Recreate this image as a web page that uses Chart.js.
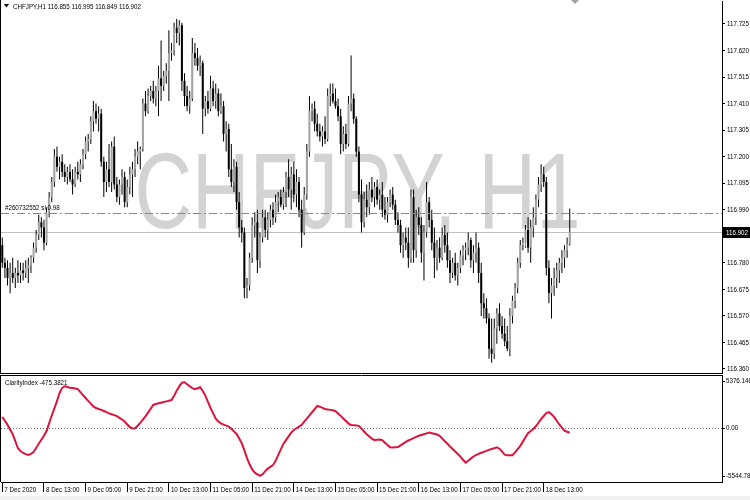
<!DOCTYPE html>
<html><head><meta charset="utf-8">
<script src="https://cdn.jsdelivr.net/npm/chart.js@4.4.1/dist/chart.umd.min.js"></script>
<style>
html,body{margin:0;padding:0;background:#fff;width:750px;height:500px;overflow:hidden}
#main{position:absolute;left:0;top:0}
#ind{position:absolute;left:0;top:374px}
#strip{position:absolute;left:0;top:496px;width:750px;height:4px;background:#f0f0f0}
</style></head><body>
<canvas id="main" width="750" height="374"></canvas>
<canvas id="ind" width="750" height="126"></canvas>
<div id="strip"></div>
<script>
const symbolTitle = 'CHFJPY,H1 116.855 116.995 116.849 116.902';
const watermark = 'CHFJPY, H1';
const indName = 'ClarityIndex -475.3821';
const slLabel = '#260732552 sl 0.98';
const bidPrice = 116.902;
const slPrice = 116.978;
const indMax = 5376.146;
const indMin = -5544.788;
const indMaxLabel = '5376.146';
const indZeroLabel = '0.00';
const indMinLabel = '-5544.788';
const emptySlots = 58;
const markerBar = 201;
const markerRange = [116.845, 116.905];

const priceTicks = [117.725,117.620,117.515,117.410,117.305,117.200,117.095,116.990,116.885,116.780,116.675,116.570,116.465,116.360];
const timeTicks = ['7 Dec 2020','8 Dec 13:00','9 Dec 05:00','9 Dec 21:00','10 Dec 13:00','11 Dec 05:00','11 Dec 21:00','14 Dec 13:00','15 Dec 05:00','15 Dec 21:00','16 Dec 13:00','17 Dec 05:00','17 Dec 21:00','18 Dec 13:00'];
const tickEvery = 16;

const open = [116.850,116.780,116.760,116.720,116.740,116.720,116.740,116.730,116.750,116.740,
116.760,116.770,116.800,116.840,116.890,116.940,116.920,116.860,116.980,117.040,
117.100,117.200,117.160,117.180,117.140,117.120,117.140,117.110,117.090,117.140,
117.130,117.170,117.210,117.260,117.270,117.340,117.380,117.350,117.370,117.180,
117.100,117.150,117.100,117.240,117.090,117.040,117.090,117.120,117.020,117.080,
117.130,117.150,117.200,117.220,117.230,117.410,117.380,117.440,117.460,117.430,
117.460,117.510,117.480,117.520,117.540,117.610,117.620,117.710,117.690,117.720,
117.500,117.440,117.400,117.430,117.610,117.590,117.560,117.570,117.390,117.420,
117.390,117.470,117.420,117.450,117.380,117.400,117.290,117.310,117.150,117.100,
117.160,117.020,116.920,116.900,116.680,116.690,116.800,116.930,116.940,116.790,
116.880,116.960,116.910,116.950,116.990,116.960,117.020,117.040,117.010,117.060,
117.120,117.070,117.130,117.050,117.100,116.990,116.900,117.050,117.220,117.380,
117.390,117.330,117.300,117.280,117.300,117.270,117.440,117.450,117.420,117.400,
117.360,117.250,117.290,117.250,117.410,117.430,117.350,117.220,117.050,116.940,
117.030,117.000,117.070,117.040,117.080,117.030,117.050,116.990,116.970,117.020,
117.050,117.010,116.950,116.930,116.850,116.880,116.860,116.800,117.040,116.830,
116.960,116.930,116.820,116.900,117.020,116.950,116.860,116.800,116.840,116.800,
116.890,116.850,116.790,116.740,116.780,116.730,116.760,116.810,116.830,116.840,
116.870,116.790,116.820,116.840,116.740,116.620,116.600,116.560,116.440,116.420,
116.520,116.580,116.530,116.500,116.470,116.440,116.570,116.630,116.680,116.780,
116.850,116.860,116.910,116.840,116.920,116.960,117.030,117.090,117.130,117.100,
116.760,116.660,116.690,116.720,116.750,116.780,116.800,116.830,116.855];
const high = [116.880,116.800,116.790,116.780,116.800,116.760,116.790,116.780,116.780,116.790,
116.800,116.810,116.860,116.910,116.970,116.960,116.950,117.000,117.060,117.120,
117.230,117.240,117.200,117.210,117.170,117.160,117.170,117.150,117.160,117.180,
117.190,117.230,117.280,117.290,117.360,117.420,117.410,117.400,117.390,117.200,
117.180,117.250,117.260,117.280,117.120,117.110,117.150,117.140,117.110,117.160,
117.180,117.230,117.260,117.240,117.430,117.460,117.470,117.480,117.500,117.480,
117.560,117.660,117.540,117.570,117.700,117.650,117.730,117.745,117.740,117.730,
117.530,117.480,117.460,117.670,117.650,117.630,117.600,117.580,117.440,117.460,
117.520,117.500,117.490,117.470,117.450,117.420,117.340,117.330,117.250,117.190,
117.180,117.060,116.950,116.920,116.720,116.820,116.960,116.980,116.990,116.900,
116.990,116.990,116.980,117.010,117.020,117.050,117.060,117.070,117.080,117.140,
117.190,117.160,117.180,117.150,117.120,117.030,117.080,117.250,117.440,117.410,
117.420,117.370,117.330,117.320,117.360,117.470,117.490,117.490,117.470,117.430,
117.390,117.320,117.330,117.440,117.600,117.450,117.360,117.240,117.110,117.060,
117.090,117.100,117.120,117.100,117.110,117.070,117.100,117.040,117.040,117.070,
117.080,117.030,116.980,116.950,116.900,116.920,116.920,117.070,117.070,116.990,
117.000,116.960,116.930,117.100,117.040,116.990,116.920,116.870,116.880,116.920,
116.930,116.900,116.830,116.800,116.820,116.780,116.830,116.850,116.860,116.900,
116.880,116.850,116.900,116.860,116.780,116.660,116.640,116.580,116.560,116.560,
116.600,116.620,116.570,116.560,116.530,116.600,116.650,116.700,116.800,116.870,
116.880,116.930,116.960,116.950,117.000,117.050,117.120,117.170,117.160,117.120,
116.790,116.720,116.760,116.780,116.800,116.830,116.850,116.880,116.995];
const low = [116.760,116.720,116.690,116.660,116.700,116.680,116.700,116.700,116.710,116.720,
116.700,116.740,116.780,116.820,116.870,116.880,116.830,116.850,116.960,117.020,
117.080,117.140,117.110,117.120,117.100,117.090,117.100,117.050,117.080,117.110,
117.100,117.150,117.190,117.220,117.250,117.300,117.330,117.300,117.160,117.040,
117.060,117.080,117.060,117.070,117.020,117.010,117.050,117.000,117.000,117.050,
117.040,117.120,117.170,117.150,117.220,117.360,117.370,117.420,117.410,117.400,
117.360,117.420,117.460,117.490,117.420,117.580,117.600,117.650,117.640,117.460,
117.400,117.380,117.370,117.420,117.560,117.540,117.520,117.290,117.360,117.370,
117.380,117.400,117.390,117.360,117.370,117.260,117.220,117.120,117.080,117.060,
116.990,116.880,116.860,116.640,116.640,116.670,116.780,116.880,116.740,116.760,
116.860,116.880,116.870,116.920,116.930,116.940,116.980,117.000,116.990,117.000,
117.040,116.990,117.020,117.000,116.960,116.840,116.890,117.030,117.200,117.340,
117.300,117.280,117.260,117.240,117.250,117.260,117.400,117.410,117.390,117.340,
117.210,117.220,117.230,117.240,117.380,117.330,117.200,117.020,116.900,116.920,
116.960,116.970,117.020,117.000,117.010,116.990,116.960,116.950,116.940,117.000,
116.990,116.930,116.900,116.820,116.800,116.830,116.760,116.780,116.780,116.800,
116.890,116.780,116.710,116.880,116.920,116.830,116.720,116.750,116.780,116.790,
116.820,116.760,116.700,116.720,116.710,116.690,116.740,116.770,116.790,116.810,
116.760,116.740,116.780,116.700,116.570,116.560,116.540,116.400,116.385,116.400,
116.460,116.510,116.480,116.450,116.430,116.410,116.540,116.600,116.660,116.760,
116.830,116.840,116.820,116.780,116.880,116.930,117.000,117.060,117.080,116.730,
116.620,116.560,116.650,116.680,116.700,116.740,116.760,116.800,116.849];
const close = [116.780,116.760,116.720,116.740,116.720,116.740,116.730,116.750,116.740,116.760,
116.770,116.800,116.840,116.890,116.940,116.920,116.860,116.980,117.040,117.100,
117.200,117.160,117.180,117.140,117.120,117.140,117.110,117.090,117.140,117.130,
117.170,117.210,117.260,117.270,117.340,117.380,117.350,117.370,117.180,117.100,
117.150,117.100,117.240,117.090,117.040,117.090,117.120,117.020,117.080,117.130,
117.150,117.200,117.220,117.230,117.410,117.380,117.440,117.460,117.430,117.460,
117.510,117.480,117.520,117.540,117.610,117.620,117.710,117.690,117.720,117.500,
117.440,117.400,117.430,117.610,117.590,117.560,117.570,117.390,117.420,117.390,
117.470,117.420,117.450,117.380,117.400,117.290,117.310,117.150,117.100,117.160,
117.020,116.920,116.900,116.680,116.690,116.800,116.930,116.940,116.790,116.880,
116.960,116.910,116.950,116.990,116.960,117.020,117.040,117.010,117.060,117.120,
117.070,117.130,117.050,117.100,116.990,116.900,117.050,117.220,117.380,117.390,
117.330,117.300,117.280,117.300,117.270,117.440,117.450,117.420,117.400,117.360,
117.250,117.290,117.250,117.410,117.430,117.350,117.220,117.050,116.940,117.030,
117.000,117.070,117.040,117.080,117.030,117.050,116.990,116.970,117.020,117.050,
117.010,116.950,116.930,116.850,116.880,116.860,116.800,117.040,116.830,116.960,
116.930,116.820,116.900,117.020,116.950,116.860,116.800,116.840,116.800,116.890,
116.850,116.790,116.740,116.780,116.730,116.760,116.810,116.830,116.840,116.870,
116.790,116.820,116.840,116.740,116.620,116.600,116.560,116.440,116.420,116.520,
116.580,116.530,116.500,116.470,116.440,116.570,116.630,116.680,116.780,116.850,
116.860,116.910,116.840,116.920,116.960,117.030,117.090,117.130,117.100,116.760,
116.660,116.690,116.720,116.750,116.780,116.800,116.830,116.855,116.902];
const clarity = [1170,770,360,-125,-610,-1330,-2070,-2350,-2550,-2670,
-2760,-2650,-2470,-2040,-1610,-1190,-780,-300,505,1310,
2040,2780,3630,4150,4320,4250,4170,4130,4090,4030,
3720,3410,3110,2820,2530,2240,2080,1980,1890,1770,
1650,1530,1440,1350,1250,1070,890,680,385,115,
-25,0,250,550,880,1215,1600,2000,2395,2490,
2560,2625,2695,2760,2830,2895,3340,3870,4305,4690,
4730,4525,4325,4130,4020,4115,4215,3830,3360,2720,
2080,1520,975,690,500,360,260,160,-60,-330,
-595,-1060,-1550,-2290,-3090,-3720,-4250,-4590,-4750,-4905,
-4750,-4425,-4170,-3990,-3810,-3360,-2770,-2180,-1620,-1230,
-845,-460,-185,-10,165,343,668,990,1317,1640,
1960,2285,2215,2095,1980,1930,1885,1840,1750,1510,
1270,1005,740,475,330,300,270,240,-40,-345,
-640,-860,-1080,-1240,-1200,-1165,-1245,-1490,-1730,-1970,
-1990,-1965,-1940,-1770,-1595,-1420,-1270,-1145,-1020,-900,
-785,-700,-620,-535,-455,-515,-580,-650,-785,-1060,
-1340,-1610,-1885,-2135,-2395,-2655,-2940,-3250,-3560,-3350,
-3135,-2915,-2780,-2655,-2535,-2440,-2340,-2240,-2145,-2060,
-1975,-2115,-2420,-2730,-2800,-2790,-2780,-2485,-2155,-1825,
-1385,-935,-510,-290,-75,195,560,925,1255,1550,
1650,1435,1170,770,380,55,-270,-370,-475.3821];

const SMALL_FONT = '8px "Liberation Sans", Arial, sans-serif';
const slots = open.length + emptySlots;
const labels = Array.from({length: slots}, (_, i) => String(i));
const bullColor = '#a4a4a4', bearColor = '#000000';

const bodies = open.map((o, i) => [o, close[i]]);
const wicks = low.map((l, i) => [l, high[i]]);
const bodyColors = open.map((o, i) => close[i] >= o ? bullColor : bearColor);
const marker = open.map((_, i) => i === markerBar ? markerRange : null);

// the reference's small font is condensed: draw it horizontally narrowed
function narrowText(ctx, text, x, y, color) {
  ctx.save();
  ctx.font = SMALL_FONT;
  const sx = 22 / ctx.measureText('117.725').width;
  ctx.translate(x, y);
  ctx.scale(sx, 1);
  ctx.textAlign = 'left';
  ctx.textBaseline = 'middle';
  ctx.fillStyle = color || '#000';
  ctx.fillText(text, 0, 0);
  ctx.restore();
}

const mainDecor = {
  id: 'mainDecor',
  beforeDatasetsDraw(chart) {
    const {ctx, chartArea: a, scales: {y}} = chart;
    ctx.save();
    ctx.font = '107px "Liberation Sans", Arial, sans-serif';
    ctx.fillStyle = '#d3d3d3';
    ctx.textBaseline = 'alphabetic';
    ctx.textAlign = 'center';
    const w = ctx.measureText(watermark).width;
    ctx.translate((a.left + a.right) / 2 - 4, 228);
    ctx.scale(446 / w, 1);
    ctx.fillText(watermark, 0, 0);
    ctx.restore();
    ctx.save();
    const by = Math.round(y.getPixelForValue(bidPrice)) + 0.5;
    ctx.strokeStyle = '#c0c0c0'; ctx.lineWidth = 1;
    ctx.beginPath(); ctx.moveTo(a.left, by); ctx.lineTo(a.right, by); ctx.stroke();
    ctx.restore();
  },
  afterDatasetsDraw(chart) {
    const {ctx, chartArea: a, scales: {y}} = chart;
    ctx.save();
    const sy = Math.round(y.getPixelForValue(slPrice)) + 0.5;
    ctx.globalAlpha = 1;
    ctx.strokeStyle = 'rgb(40,205,40)';
    ctx.lineWidth = 1;
    ctx.setLineDash([8, 3, 2, 3]);
    ctx.beginPath(); ctx.moveTo(a.left, sy); ctx.lineTo(a.right, sy); ctx.stroke();
    ctx.restore();
  },
  afterDraw(chart) {
    const {ctx, chartArea: a, scales: {y}} = chart;
    ctx.save();
    ctx.strokeStyle = '#000'; ctx.lineWidth = 1;
    ctx.beginPath(); ctx.moveTo(0.5, 0); ctx.lineTo(0.5, a.bottom + 1); ctx.stroke();
    ctx.beginPath(); ctx.moveTo(0, a.bottom + 0.5); ctx.lineTo(a.right + 1, a.bottom + 0.5); ctx.stroke();
    ctx.fillStyle = '#000';
    ctx.beginPath(); ctx.moveTo(4, 4); ctx.lineTo(9, 4); ctx.lineTo(6.5, 7.5); ctx.closePath(); ctx.fill();
    ctx.fillStyle = '#a0a0a0';
    ctx.beginPath(); ctx.moveTo(571, 0); ctx.lineTo(579, 0); ctx.lineTo(575, 4); ctx.closePath(); ctx.fill();
    ctx.restore();
    narrowText(ctx, symbolTitle, 13, 6.5);
    narrowText(ctx, slLabel, 5, y.getPixelForValue(slPrice) - 5);
    priceTicks.forEach(v => {
      narrowText(ctx, v.toFixed(3), a.right + 5, y.getPixelForValue(v));
    });
    const by = Math.round(y.getPixelForValue(bidPrice));
    ctx.save();
    ctx.fillStyle = '#000';
    ctx.fillRect(a.right + 1, by - 5, 27, 11);
    ctx.restore();
    narrowText(ctx, bidPrice.toFixed(3), a.right + 4, by + 0.5, '#fff');
  }
};

new Chart(document.getElementById('main'), {
  type: 'bar',
  data: {
    labels,
    datasets: [
      {data: marker, backgroundColor: '#22dd22', barThickness: 1, grouped: false, inflateAmount: 0},
      {data: bodies, backgroundColor: bodyColors, barThickness: 2, grouped: false, minBarLength: 1, inflateAmount: 0},
      {data: wicks, backgroundColor: '#000', barThickness: 1, grouped: false, inflateAmount: 0}
    ]
  },
  options: {
    responsive: false, devicePixelRatio: 1, animation: false,
    layout: {padding: {left: 1, top: 1, right: 0, bottom: 1}},
    plugins: {legend: {display: false}, tooltip: {enabled: false}},
    scales: {
      x: {type: 'category', display: false, offset: true},
      y: {
        position: 'right', min: 116.344, max: 117.816,
        afterBuildTicks: s => { s.ticks = priceTicks.map(v => ({value: v})); },
        afterFit: s => { s.width = 28; },
        grid: {drawOnChartArea: false, tickLength: 3, color: '#000'},
        border: {display: true, color: '#000'},
        ticks: {display: false}
      }
    }
  },
  plugins: [mainDecor]
});

const indDecor = {
  id: 'indDecor',
  beforeDatasetsDraw(chart) {
    const {ctx, chartArea: a, scales: {y}} = chart;
    ctx.save();
    const zy = Math.round(y.getPixelForValue(0)) + 0.5;
    ctx.strokeStyle = '#707070'; ctx.setLineDash([1, 2]);
    ctx.beginPath(); ctx.moveTo(a.left, zy); ctx.lineTo(a.right, zy); ctx.stroke();
    ctx.restore();
  },
  afterDraw(chart) {
    const {ctx, chartArea: a, scales: {x, y}} = chart;
    ctx.save();
    ctx.strokeStyle = '#000'; ctx.lineWidth = 1;
    ctx.beginPath(); ctx.moveTo(0.5, a.top); ctx.lineTo(0.5, a.bottom); ctx.stroke();
    ctx.beginPath(); ctx.moveTo(0, a.top - 0.5); ctx.lineTo(a.right + 1, a.top - 0.5); ctx.stroke();
    const zy = y.getPixelForValue(0);
    const items = [[indMaxLabel, a.top + 5], [indZeroLabel, zy], [indMinLabel, a.bottom - 6]];
    items.forEach(([t, py]) => {
      ctx.beginPath(); ctx.moveTo(a.right, Math.round(py) + 0.5); ctx.lineTo(a.right + 3, Math.round(py) + 0.5); ctx.stroke();
    });
    ctx.restore();
    narrowText(ctx, indName, 5, a.top + 7);
    items.forEach(([t, py]) => narrowText(ctx, t, a.right + 4, py));
    timeTicks.forEach((t, k) => {
      narrowText(ctx, t, x.getPixelForValue(k * tickEvery) + 2, a.bottom + 8);
    });
  }
};

new Chart(document.getElementById('ind'), {
  type: 'line',
  data: {
    labels,
    datasets: [{data: clarity, borderColor: '#dc143c', borderWidth: 2, pointRadius: 0, tension: 0, fill: false}]
  },
  options: {
    responsive: false, devicePixelRatio: 1, animation: false,
    layout: {padding: {left: 1, top: 2, right: 0, bottom: 0}},
    plugins: {legend: {display: false}, tooltip: {enabled: false}},
    scales: {
      x: {
        type: 'category', offset: true,
        afterFit: s => { s.height = 18; },
        grid: {offset: false, drawOnChartArea: false, tickLength: 10,
               color: c => (c.index % tickEvery === 0 && c.index / tickEvery < timeTicks.length) ? '#000' : 'rgba(0,0,0,0)'},
        border: {display: true, color: '#000'},
        ticks: {display: false, autoSkip: false}
      },
      y: {
        position: 'right', min: indMin, max: indMax,
        afterFit: s => { s.width = 28; },
        ticks: {display: false},
        grid: {display: false},
        border: {display: true, color: '#000'}
      }
    }
  },
  plugins: [indDecor]
});
</script>
</body></html>
